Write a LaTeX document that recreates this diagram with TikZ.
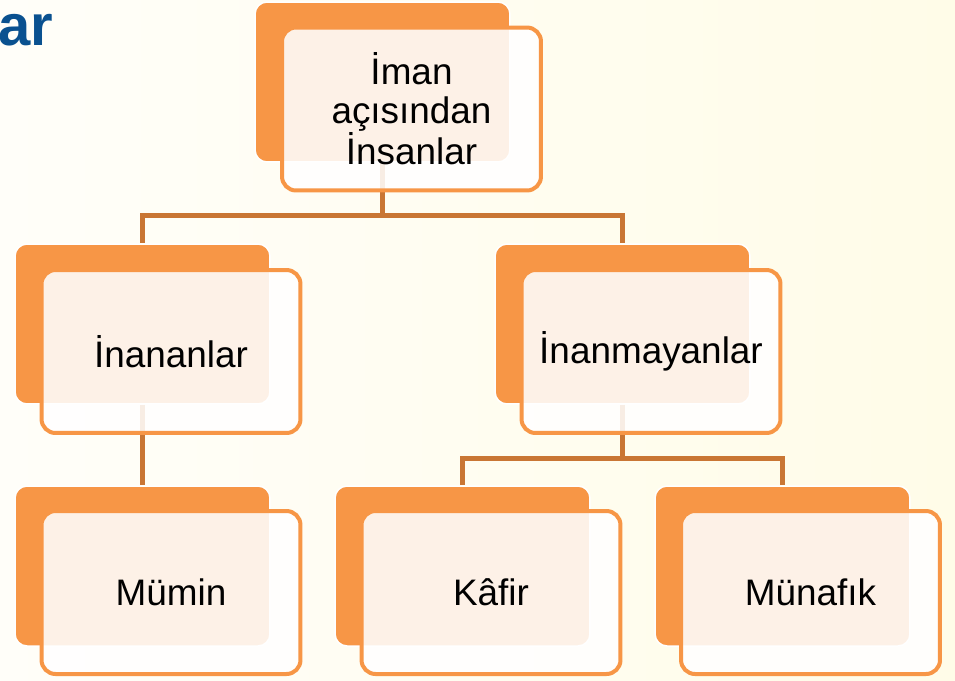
\documentclass[tikz,border=0pt]{standalone}
\usepackage{xcolor}
\usepackage{fontspec}
\setmainfont{Liberation Sans}
\usetikzlibrary{positioning}
\definecolor{Bg0}{HTML}{FFFEF9}
\definecolor{Bg1}{HTML}{FFFCE8}
\definecolor{Orn}{HTML}{F79646}
\definecolor{Lnk}{HTML}{C97634}
\definecolor{Ttl}{HTML}{0A5190}
\tikzset{
  backbox/.style={draw=white, line width=0.03cm, fill=Orn, rounded corners=0.24cm, minimum width=5.1cm, minimum height=3.2cm},
  frontbox/.style={draw=Orn, line width=0.08cm, fill=white, fill opacity=0.87, text opacity=1, rounded corners=0.28cm, minimum width=5.18cm, minimum height=3.26cm, align=center, font=\fontsize{21}{22}\selectfont},
  conn/.style={draw=Lnk, line width=0.1cm},
}

\begin{document}
\begin{tikzpicture}[x=0.02cm, y=-0.02cm]%
\shade[left color=Bg0, right color=Bg1] (0,0) rectangle (955,680);%
\useasboundingbox (0,0) rectangle (955,680);%
\node[anchor=base west, inner sep=0, text=Ttl, font=\fontsize{33}{36}\selectfont\bfseries] (title) at (-2,45) {ar};%
% back boxes
\node[backbox] (imanB) at (382.5, 82) {};%
\node[backbox] (inanB) at (142.5, 324) {};%
\node[backbox] (inmaB) at (622.5, 324) {};%
\node[backbox] (mumB) at (142.5, 566) {};%
\node[backbox] (kafB) at (462.5, 566) {};%
\node[backbox] (munB) at (782.5, 566) {};%
% connectors
\path (imanB.south) ++(0,53) coordinate (busA);%
\path (inmaB.south) ++(0,54) coordinate (busB);%
\draw[conn] (imanB.south) -- (busA) -| (inanB.north);%
\draw[conn] (busA) -| (inmaB.north);%
\draw[conn] (inanB.south) -- (mumB.north);%
\draw[conn] (inmaB.south) -- (busB) -| (kafB.north);%
\draw[conn] (busB) -| (munB.north);%
% front boxes
\node[frontbox] (imanF) at (411.5, 109) {İman\\açısından\\İnsanlar};%
\node[frontbox] (inanF) at (171, 351.5) {İnananlar};%
\node[frontbox] (inmaF) at (651, 351.5) {İnanmayanlar};%
\node[frontbox] (mumF) at (171, 592.5) {Mümin};%
\node[frontbox] (kafF) at (491, 592.5) {Kâfir};%
\node[frontbox] (munF) at (810.5, 592.5) {Münafık};%
\end{tikzpicture}
\end{document}
